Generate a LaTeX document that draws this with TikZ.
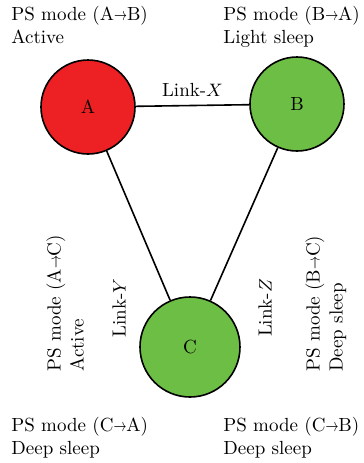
\documentclass[tikz,border=0pt]{standalone}
\usepackage{amsmath}
\usepackage{xcolor}
\usepackage{tikz}

\definecolor{nodered}{RGB}{237,32,36}
\definecolor{nodegreen}{RGB}{109,190,69}
% short arrow used in the mode labels
\newcommand{\psarrow}{\scalebox{0.7}[1]{$\rightarrow$}}

\begin{document}
\begin{tikzpicture}[x=0.5pt,y=-0.5pt,
    station/.style={circle,draw,line width=0.8pt,inner sep=0pt,font=\fontsize{9.5}{11.5}\selectfont},
    mode/.style={align=left,inner sep=0pt,font=\fontsize{9.5}{11.5}\selectfont},
    link/.style={line width=0.8pt}]
    \useasboundingbox (0,0) rectangle (364,463);
    % the three stations
    \node[station,fill=nodered,minimum size=47pt] (A) at (88,107) {A};
    \node[station,fill=nodegreen,minimum size=47pt] (B) at (297,104) {B};
    \node[station,fill=nodegreen,minimum size=50pt] (C) at (190,347) {C};
    % links between them
    \draw[link] (A) -- node[mode,above=4pt] (linkX) {Link-$X$} (B);
    \draw[link] (A) -- (C);
    \draw[link] (B) -- (C);
    \node[mode,rotate=90] (linkY) at (119,308) {Link-$Y$};
    \node[mode,rotate=90] (linkZ) at (265,308) {Link-$Z$};
    % power saving modes
    \node[mode,anchor=north west] (modeAB) at (11,6) {PS mode (A\psarrow B)\\Active};
    \node[mode,anchor=north west] (modeBA) at (223,6) {PS mode (B\psarrow A)\\Light sleep};
    \node[mode,anchor=north west,rotate=90] (modeAC) at (46,372) {PS mode (A\psarrow C)\\Active};
    \node[mode,anchor=north west,rotate=90] (modeBC) at (305,372) {PS mode (B\psarrow C)\\Deep sleep};
    \node[mode,anchor=north west] (modeCA) at (11,417) {PS mode (C\psarrow A)\\Deep sleep};
    \node[mode,anchor=north west] (modeCB) at (223,417) {PS mode (C\psarrow B)\\Deep sleep};
\end{tikzpicture}
\end{document}
